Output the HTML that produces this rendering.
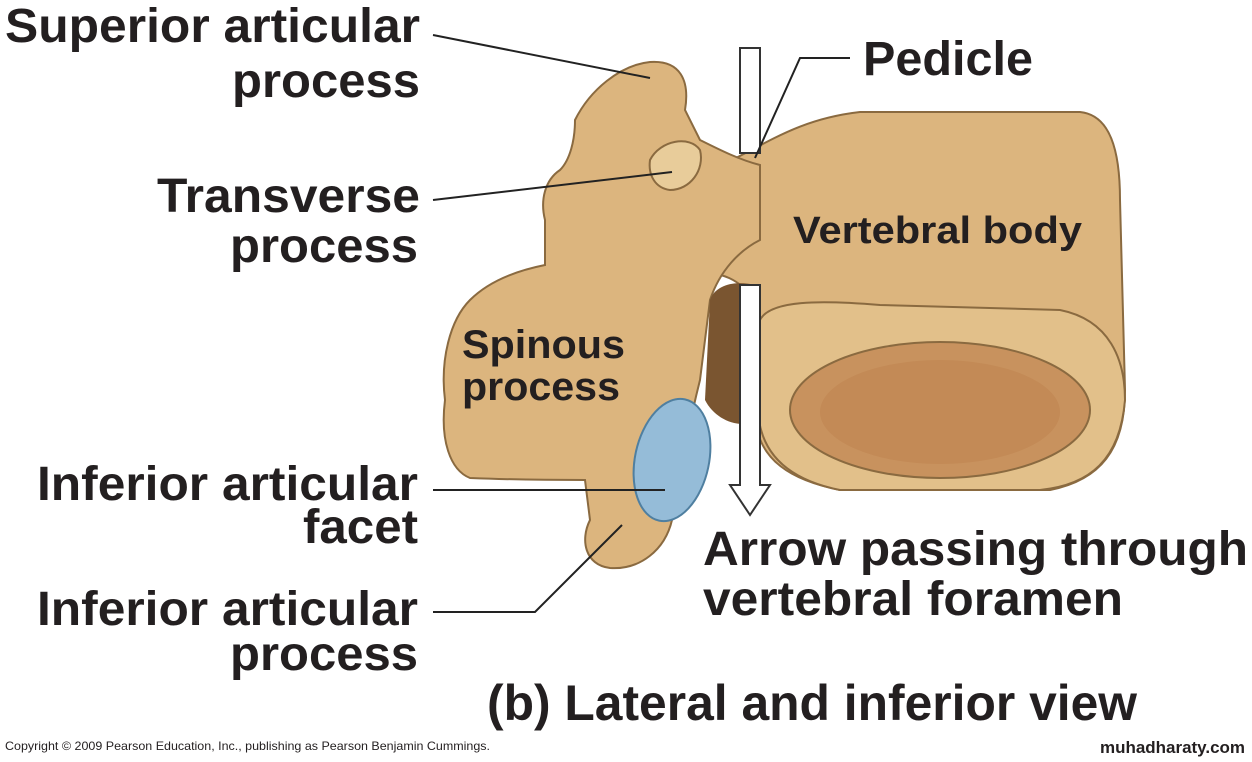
<!DOCTYPE html>
<html><head><meta charset="utf-8"><style>
html,body{margin:0;padding:0;background:#fff;}
body{width:1252px;height:762px;overflow:hidden;position:relative;font-family:"Liberation Sans",sans-serif;}
svg{position:absolute;left:0;top:0;}
</style></head><body>
<svg width="1252" height="762" viewBox="0 0 1252 762">
<path d="M700,175 C760,150 790,120 860,112 L1080,112 C1110,115 1120,150 1120,200 L1125,390 C1125,450 1100,480 1050,490 L840,490 C790,480 760,460 755,420 L755,300 C740,280 720,270 700,275 Z" fill="#dcb57e" stroke="#8a6a40" stroke-width="2"/>
<path d="M760,320 C770,300 820,300 880,305 L1060,310 C1110,320 1125,360 1125,400 C1120,460 1090,485 1040,490 L840,490 C790,480 760,455 758,410 Z" fill="#e2c08a" stroke="#8a6a40" stroke-width="2"/>
<ellipse cx="940" cy="410" rx="150" ry="68" fill="#c8925e" stroke="#8a6a40" stroke-width="2"/>
<ellipse cx="940" cy="412" rx="120" ry="52" fill="#c38a56"/>
<path d="M575,120 C590,90 620,65 650,62 C680,60 690,80 685,110 L700,140 C720,150 740,160 760,165 L760,240 C740,250 720,270 710,300 L700,380 C690,420 680,470 672,520 C665,550 640,570 610,568 C585,565 580,540 590,520 L585,480 C560,480 520,480 470,478 C450,470 440,440 445,400 C440,360 450,320 470,300 C490,280 520,270 545,265 L545,220 C540,200 545,180 560,170 C570,160 575,140 575,120 Z" fill="#dcb57e" stroke="#8a6a40" stroke-width="2"/>
<path d="M650,160 C660,140 690,135 700,150 C705,170 690,190 670,190 C655,188 648,175 650,160 Z" fill="#e8cc9a" stroke="#8a6a40" stroke-width="2"/>
<path d="M710,300 C715,285 735,280 755,285 L758,420 C740,430 715,420 705,400 Z" fill="#7a5530"/>
<ellipse cx="672" cy="460" rx="37" ry="62" transform="rotate(12 672 460)" fill="#95bcd8" stroke="#4f7fa0" stroke-width="2"/>
<rect x="740" y="48" width="20" height="105" fill="#fff" stroke="#333" stroke-width="2"/>
<path d="M740,285 L760,285 L760,485 L770,485 L750,515 L730,485 L740,485 Z" fill="#fff" stroke="#333" stroke-width="2"/>
<g stroke="#222" stroke-width="2" fill="none">
<path d="M433,35 L650,78"/>
<path d="M850,58 L800,58 L755,158"/>
<path d="M433,200 L672,172"/>
<path d="M433,490 L665,490"/>
<path d="M433,612 L535,612 L622,525"/>
</g>
<g font-family="Liberation Sans, sans-serif" font-weight="bold" fill="#231f20" lengthAdjust="spacingAndGlyphs">
<text x="5" y="42" font-size="48" textLength="415" lengthAdjust="spacingAndGlyphs">Superior articular</text>
<text x="232" y="97" font-size="48" textLength="188" lengthAdjust="spacingAndGlyphs">process</text>
<text x="863" y="75" font-size="48" textLength="170" lengthAdjust="spacingAndGlyphs">Pedicle</text>
<text x="157" y="212" font-size="48" textLength="263" lengthAdjust="spacingAndGlyphs">Transverse</text>
<text x="230" y="262" font-size="48" textLength="188" lengthAdjust="spacingAndGlyphs">process</text>
<text x="793" y="243" font-size="38" textLength="289" lengthAdjust="spacingAndGlyphs">Vertebral body</text>
<text x="462" y="358" font-size="40" textLength="163" lengthAdjust="spacingAndGlyphs">Spinous</text>
<text x="462" y="400" font-size="40" textLength="158" lengthAdjust="spacingAndGlyphs">process</text>
<text x="37" y="500" font-size="48" textLength="381" lengthAdjust="spacingAndGlyphs">Inferior articular</text>
<text x="303" y="543" font-size="48" textLength="115" lengthAdjust="spacingAndGlyphs">facet</text>
<text x="37" y="625" font-size="48" textLength="381" lengthAdjust="spacingAndGlyphs">Inferior articular</text>
<text x="230" y="670" font-size="48" textLength="188" lengthAdjust="spacingAndGlyphs">process</text>
<text x="703" y="565" font-size="48" textLength="545" lengthAdjust="spacingAndGlyphs">Arrow passing through</text>
<text x="703" y="615" font-size="48" textLength="420" lengthAdjust="spacingAndGlyphs">vertebral foramen</text>
<text x="487" y="720" font-size="50" textLength="650" lengthAdjust="spacingAndGlyphs">(b) Lateral and inferior view</text>
<text x="1100" y="753" font-size="17" textLength="145" lengthAdjust="spacingAndGlyphs">muhadharaty.com</text>
</g>
<text x="5" y="750" font-size="12" fill="#231f20" font-family="Liberation Sans, sans-serif" textLength="485" lengthAdjust="spacingAndGlyphs">Copyright © 2009 Pearson Education, Inc., publishing as Pearson Benjamin Cummings.</text>
</svg>
</body></html>
